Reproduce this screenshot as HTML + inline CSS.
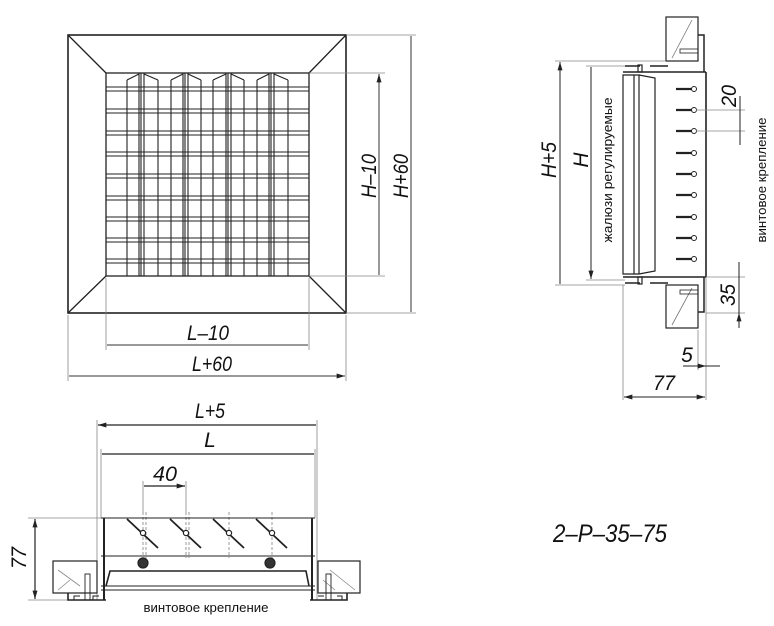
<!DOCTYPE html>
<html><head><meta charset="utf-8"><style>
html,body{margin:0;padding:0;background:#fff;width:774px;height:626px;overflow:hidden}
svg{display:block}
text{font-family:"Liberation Sans Narrow","Liberation Sans",sans-serif;font-style:italic;fill:#111}
</style></head><body>
<svg width="774" height="626" viewBox="0 0 774 626" xmlns="http://www.w3.org/2000/svg">
<defs>
<marker id="a" viewBox="0 0 10 6" refX="10" refY="3" markerWidth="9" markerHeight="5" orient="auto-start-reverse" markerUnits="userSpaceOnUse"><path d="M0,0 L10,3 L0,6 z" fill="#222"/></marker>
</defs>
<g stroke="#222" fill="none" stroke-width="1.3">
<rect x="68" y="35" width="278" height="278" stroke-width="1.6"/>
<rect x="106" y="73" width="203" height="203"/>
<path d="M68 35L106 73M346 35L309 73M68 313L106 276M346 313L309 276"/>
</g>
<g stroke="#222" fill="none" stroke-width="1.1">
<path d="M127 80V276M139 73V276M141 73V276M144 73V276M158 80V276
M171 80V276M183 73V276M185 73V276M188 73V276M201 80V276
M213 80V276M226 73V276M228 73V276M231 73V276M244 80V276
M257 80V276M269 73V276M271 73V276M274 73V276M288 80V276"/>
<path d="M127 80L139 74M144 74L158 80M171 80L183 74M188 74L201 80M213 80L226 74M231 74L244 80M257 80L269 74M274 74L288 80"/>
<path d="M106 87H309M106 91H309M106 109H309M106 113H309M106 131H309M106 135H309M106 152H309M106 156H309M106 174H309M106 178H309M106 196H309M106 200H309M106 217H309M106 221H309M106 238H309M106 242H309M106 259H309M106 263H309"/>
</g>
<g stroke="#333" fill="none" stroke-width="1">
<path d="M309 73H385M309 276H385M346 35H416M346 313H416M106 278V350M309 278V350M68 315V381M346 315V381" stroke="#888" stroke-width="0.8"/>
<path d="M379 74V275M411 36V312M107 345H308M69 376H345" marker-start="url(#a)" marker-end="url(#a)"/>
</g>
<text transform="translate(376 176) rotate(-90)" font-size="21" text-anchor="middle" textLength="44" lengthAdjust="spacingAndGlyphs">H–10</text>
<text transform="translate(408 176) rotate(-90)" font-size="21" text-anchor="middle" textLength="44" lengthAdjust="spacingAndGlyphs">H+60</text>
<text x="208" y="340" font-size="21" text-anchor="middle" textLength="42" lengthAdjust="spacingAndGlyphs">L–10</text>
<text x="212" y="371" font-size="21" text-anchor="middle" textLength="40" lengthAdjust="spacingAndGlyphs">L+60</text>

<!-- SIDE VIEW -->
<g stroke="#222" fill="none" stroke-width="1.2">
<rect x="666" y="17" width="32" height="44"/>
<rect x="666" y="285" width="32" height="43"/>
<path d="M672 58L692 20M672 325L692 288" stroke="#777" stroke-width="0.8"/>
<rect x="680" y="49" width="18" height="4" stroke-width="0.8"/>
<rect x="680" y="290" width="18" height="4" stroke-width="0.8"/>
<path d="M698 35H704V72M698 312H704V277" stroke-width="1.5"/>
<path d="M623 72H706M623 277H706M706 72V277" stroke-width="1.6"/>
<path d="M623 75H634V274H623ZM634 75H639V274H634ZM639 75L655 78V271L639 274" stroke-width="1.2"/>
<path d="M625 66H640M650 66H668M625 283H640M650 283H668" stroke-width="1.5"/>
<rect x="638" y="65" width="4" height="7"/><rect x="638" y="277" width="4" height="7"/>
<g stroke-width="2.2">
<path d="M676 89H692M676 110H692M676 131H692M676 153H692M676 174H692M676 195H692M676 217H692M676 238H692M676 259H692"/>
</g>
<g fill="#fff" stroke-width="1">
<circle cx="694" cy="89" r="2.5"/><circle cx="694" cy="110" r="2.5"/><circle cx="694" cy="131" r="2.5"/><circle cx="694" cy="153" r="2.5"/><circle cx="694" cy="174" r="2.5"/><circle cx="694" cy="195" r="2.5"/><circle cx="694" cy="217" r="2.5"/><circle cx="694" cy="238" r="2.5"/><circle cx="694" cy="259" r="2.5"/>
</g>
</g>
<g stroke="#888" fill="none" stroke-width="0.8">
<path d="M555 61H666M586 66H625M555 285H625M586 280H625M696 110H745M696 131H745M706 277H745M706 313H745M623 285V400M706 277V400M698 330V370"/>
</g>
<g stroke="#222" fill="none" stroke-width="1">
<path d="M560 62V284M591 67V279" marker-start="url(#a)" marker-end="url(#a)"/>
<path d="M740 96V110M740 145V131M739 262V277M739 328V313" marker-end="url(#a)"/>
<path d="M740 110V131M739 277V313"/>
<path d="M683 366H698M720 366H706M698 366H706" marker-end="url(#a)"/>
<path d="M624 397H705" marker-start="url(#a)" marker-end="url(#a)"/>
</g>
<text transform="translate(556 160) rotate(-90)" font-size="21" text-anchor="middle" textLength="36" lengthAdjust="spacingAndGlyphs">H+5</text>
<text transform="translate(588 160) rotate(-90)" font-size="21" text-anchor="middle">H</text>
<text transform="translate(612 170) rotate(-90)" font-size="13" text-anchor="middle" style="font-style:normal" textLength="145" lengthAdjust="spacingAndGlyphs">жалюзи  регулируемые</text>
<text transform="translate(736 96) rotate(-90)" font-size="21" text-anchor="middle" textLength="22" lengthAdjust="spacingAndGlyphs">20</text>
<text transform="translate(735 295) rotate(-90)" font-size="21" text-anchor="middle" textLength="22" lengthAdjust="spacingAndGlyphs">35</text>
<text transform="translate(766 180) rotate(-90)" font-size="13" text-anchor="middle" style="font-style:normal" textLength="125" lengthAdjust="spacingAndGlyphs">винтовое крепление</text>
<text x="687" y="362" font-size="21" text-anchor="middle">5</text>
<text x="664" y="390" font-size="21" text-anchor="middle" textLength="22" lengthAdjust="spacingAndGlyphs">77</text>

<!-- BOTTOM VIEW -->
<g stroke="#888" fill="none" stroke-width="0.8">
<path d="M97 420V600M101 449V518M315 449V518M317 420V600M143 481V512M186 481V512M28 518H101M28 600H68"/>
</g>
<g stroke="#999" fill="none" stroke-width="1" stroke-dasharray="3 2">
<path d="M143 512V558M186 512V558M229 512V558M272 512V558M146 512V558M189 512V558"/>
</g>
<g stroke="#222" fill="none" stroke-width="1.2">
<path d="M98 425H316M102 454H314M144 486H185" marker-start="url(#a)" marker-end="url(#a)"/>
<path d="M35 519V599" marker-start="url(#a)" marker-end="url(#a)"/>
<path d="M101 518H315M101 556H315M101 586H315M101 590H315" stroke-width="1.1"/>
<path d="M104 518V600M312 518V600" stroke-width="2"/>
<path d="M106 586L110 571H306L309 586" stroke-width="1.6"/>
<path d="M127 519L158 548M170 519L201 548M213 519L244 548M256 519L287 548" stroke-width="1.8"/>
<g fill="#fff"><circle cx="143" cy="533" r="2.6"/><circle cx="186" cy="533" r="2.6"/><circle cx="229" cy="533" r="2.6"/><circle cx="272" cy="533" r="2.6"/></g>
<g fill="#333"><circle cx="143" cy="563" r="5"/><circle cx="270" cy="563" r="5"/></g>
<rect x="53" y="561" width="44" height="32"/>
<rect x="318" y="561" width="42" height="32"/>
<path d="M58 590L70 580M58 570L80 586M330 570L355 590M323 580L335 590" stroke="#888" stroke-width="0.8"/>
<rect x="85" y="574" width="5" height="26" stroke-width="0.9"/>
<rect x="326" y="574" width="5" height="26" stroke-width="0.9"/>
<path d="M68 593V600H106M310 600H347V593" stroke-width="1.6"/>
<path d="M74 600V596H80M93 600V596H99M318 596H324M337 596H342V600" stroke-width="1"/>
</g>
<text x="210" y="418" font-size="21" text-anchor="middle" textLength="30" lengthAdjust="spacingAndGlyphs">L+5</text>
<text x="210" y="447" font-size="21" text-anchor="middle">L</text>
<text x="165" y="481" font-size="21" text-anchor="middle" textLength="24" lengthAdjust="spacingAndGlyphs">40</text>
<text transform="translate(26 558) rotate(-90)" font-size="21" text-anchor="middle" textLength="22" lengthAdjust="spacingAndGlyphs">77</text>
<text x="206" y="612" font-size="13" text-anchor="middle" style="font-style:normal" textLength="125" lengthAdjust="spacingAndGlyphs">винтовое крепление</text>
<text x="610" y="542" font-size="25" text-anchor="middle" textLength="114" lengthAdjust="spacingAndGlyphs">2–P–35–75</text>
</svg>
</body></html>
